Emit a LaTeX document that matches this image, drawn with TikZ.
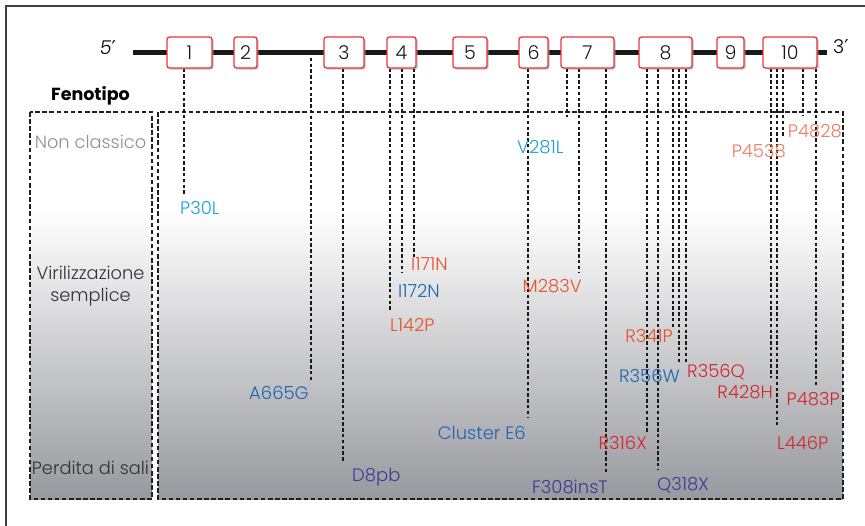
\documentclass[tikz,border=0pt]{standalone}
\usepackage{fontspec}
\setmainfont{Poppins}[UprightFont=* Light, BoldFont=* Bold, ItalicFont=* Light Italic]
\newfontfamily\dv{DejaVu Sans}
\usetikzlibrary{shadows}
\definecolor{cyanm}{RGB}{25,160,222}
\definecolor{bluem}{RGB}{28,100,182}
\definecolor{indm}{RGB}{58,58,152}
\definecolor{orm}{RGB}{230,82,44}
\definecolor{salm}{RGB}{240,120,95}
\definecolor{redm}{RGB}{212,38,44}
\definecolor{exred}{RGB}{232,52,60}
\definecolor{phgray}{RGB}{152,153,158}
\definecolor{phlight}{RGB}{140,144,148}
\definecolor{phdark}{RGB}{50,50,52}
\begin{document}
\begin{tikzpicture}[x=1pt,y=-1pt,
  exon/.style={draw=exred, line width=1.3pt, fill=white, rounded corners=2.5pt,
    minimum height=31pt, inner sep=0pt, text=black!90,
    font=\fontsize{19}{19}\selectfont,
    drop shadow={shadow xshift=1.6pt, shadow yshift=-1.6pt, fill=black!40, opacity=0.6}},
  conn/.style={line width=1.9pt, dash pattern=on 3.4pt off 2.4pt, black!90},
  border/.style={line width=1.8pt, dash pattern=on 4.5pt off 2.6pt, black!88},
  mut/.style={inner sep=0pt, font=\fontsize{18}{18}\selectfont},
  pheno/.style={inner sep=0pt, font=\fontsize{17.8}{18}\selectfont, anchor=base},
  backbone/.style={line width=5pt, black!90}]
\useasboundingbox (0,0) rectangle (865,525);
% frame
\draw[line width=1.2pt, black!75] (6,540) -- (6,6) -- (880,6);
% phenotype panels
\shade[top color=white, bottom color=phgray] (30,210) rectangle (152,499);
\shade[top color=white, bottom color=phgray] (158,210) rectangle (843,499);
\draw[border] (30,112) rectangle (152,499);
\draw[border] (158,112) rectangle (843,499);
% backbone
\coordinate (s5) at (133,52);
\coordinate (s3) at (827,52);
\draw[backbone] (s5) -- (s3);
\node[inner sep=0pt, anchor=base, font=\fontsize{19}{19}\selectfont\itshape] (p5) at (108,54) {5{\dv\upshape ′}};
\node[inner sep=0pt, anchor=base west, font=\fontsize{19}{19}\selectfont] (p3) at (833,53) {3{\dv ′}};
% exons
\node[exon, minimum width=45pt] (e1) at (189.5,52.5) {1};
\node[exon, minimum width=23pt] (e2) at (245.5,52.5) {2};
\node[exon, minimum width=40pt] (e3) at (344,52.5) {3};
\node[exon, minimum width=29pt] (e4) at (401.5,52.5) {4};
\node[exon, minimum width=34pt] (e5) at (470,52.5) {5};
\node[exon, minimum width=29pt] (e6) at (533.5,52.5) {6};
\node[exon, minimum width=53pt] (e7) at (587.5,52.5) {7};
\node[exon, minimum width=53pt] (e8) at (665.5,52.5) {8};
\node[exon, minimum width=27pt] (e9) at (730.5,52.5) {9};
\node[exon, minimum width=54pt] (e10) at (790,52.5) {10};
% phenotype labels
\node[inner sep=0pt, anchor=base, font=\fontsize{17.5}{18}\selectfont\bfseries] (fen) at (90.5,100) {Fenotipo};
\node[pheno, text=phlight] (nc) at (90.5,148) {Non classico};
\node[pheno, text=phdark] (vir) at (90.5,279) {Virilizzazione};
\node[pheno, text=phdark] (sem) at (90.5,301) {semplice};
\node[pheno, text=phdark] (ps) at (90.5,474) {Perdita di sali};
% connector end points
\coordinate (c1) at (184,195);
\coordinate (c2) at (311,381);
\coordinate (c3) at (343,463);
\coordinate (c4a) at (390,312);
\coordinate (c4b) at (402,273);
\coordinate (c4c) at (414,257);
\coordinate (c6) at (528,418);
\coordinate (c7a) at (567,117);
\coordinate (c7b) at (579,273);
\coordinate (c7c) at (606,472);
\coordinate (c8a) at (647,432);
\coordinate (c8b) at (658,470);
\coordinate (c8c) at (673,327);
\coordinate (c8d) at (679,364);
\coordinate (c8e) at (686,362);
\coordinate (c10a) at (771,378);
\coordinate (c10b) at (777,425);
\coordinate (c10c) at (783,137);
\coordinate (c10d) at (803,116);
\coordinate (c10e) at (816,386);
% connectors
\draw[conn] (e1.south -| c1) -- (c1);
\draw[conn] (s5 -| c2) -- (c2);
\draw[conn] (e3.south -| c3) -- (c3);
\draw[conn] (e4.south -| c4a) -- (c4a);
\draw[conn] (e4.south -| c4b) -- (c4b);
\draw[conn] (e4.south -| c4c) -- (c4c);
\draw[conn] (e6.south -| c6) -- (c6);
\draw[conn] (e7.south -| c7a) -- (c7a);
\draw[conn] (e7.south -| c7b) -- (c7b);
\draw[conn] (e7.south -| c7c) -- (c7c);
\draw[conn] (e8.south -| c8a) -- (c8a);
\draw[conn] (e8.south -| c8b) -- (c8b);
\draw[conn] (e8.south -| c8c) -- (c8c);
\draw[conn] (e8.south -| c8d) -- (c8d);
\draw[conn] (e8.south -| c8e) -- (c8e);
\draw[conn] (e10.south -| c10a) -- (c10a);
\draw[conn] (e10.south -| c10b) -- (c10b);
\draw[conn] (e10.south -| c10c) -- (c10c);
\draw[conn] (e10.south -| c10d) -- (c10d);
\draw[conn] (e10.south -| c10e) -- (c10e);
% mutation labels
\node[mut, text=cyanm, anchor=base west] (m1) at (180,214) {P30L};
\node[mut, text=bluem, anchor=base east] (m2) at (309,399) {A665G};
\node[mut, text=indm, anchor=base west] (m3) at (352,481) {D8pb};
\node[mut, text=orm, anchor=base west] (m4a) at (390,331) {L142P};
\node[mut, text=bluem, anchor=base west] (m4b) at (398,297) {I172N};
\node[mut, text=orm, anchor=base west] (m4c) at (411,270) {I171N};
\node[mut, text=bluem, anchor=base east] (m6) at (526,439) {Cluster E6};
\node[mut, text=cyanm, anchor=base west] (m7a) at (517,153) {V281L};
\node[mut, text=orm, anchor=base east] (m7b) at (582,292) {M283V};
\node[mut, text=indm, anchor=base east] (m7c) at (608,493) {F308insT};
\node[mut, text=redm, anchor=base east] (m8a) at (647,449) {R316X};
\node[mut, text=indm, anchor=base west] (m8b) at (657,490) {Q318X};
\node[mut, text=orm, anchor=base east] (m8c) at (673,342) {R341P};
\node[mut, text=bluem, anchor=base east] (m8d) at (680,382) {R356W};
\node[mut, text=redm, anchor=base west] (m8e) at (687,377) {R356Q};
\node[mut, text=redm, anchor=base east] (m10a) at (773,398) {R428H};
\node[mut, text=redm, anchor=base west] (m10b) at (777,449) {L446P};
\node[mut, text=salm, anchor=base east] (m10c) at (786,157) {P4538};
\node[mut, text=salm, anchor=base east] (m10d) at (842,137) {P4828};
\node[mut, text=redm, anchor=base east] (m10e) at (840,405) {P483P};
\end{tikzpicture}
\end{document}
